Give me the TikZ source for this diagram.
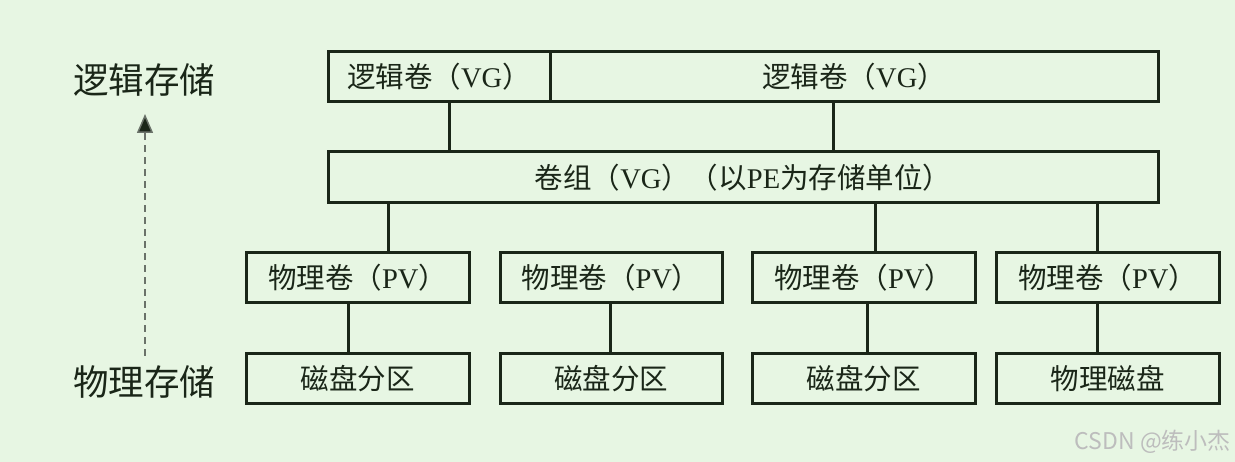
\documentclass[tikz,border=0pt]{standalone}
\usepackage{fontspec}
\setmainfont{Liberation Serif}
\newfontfamily\cjk{Noto Sans CJK SC}
\usetikzlibrary{arrows.meta}
\newcommand\zh[1]{{\cjk #1}}
\definecolor{bgc}{HTML}{E7F6E3}
\definecolor{linec}{HTML}{1A2618}
\definecolor{wmc}{HTML}{BDBDBD}
\tikzset{
  box/.style={draw=linec, line width=3pt, rectangle, inner sep=0pt,
    minimum height=50pt, text=linec, font=\fontsize{28.5}{28.5}\selectfont},
  conn/.style={draw=linec, line width=3pt},
  side/.style={text=linec, font=\cjk\fontsize{35.5}{35.5}\selectfont, inner sep=0pt},
  wm/.style={text=wmc, font=\cjk\fontsize{23}{23}\selectfont, inner sep=0pt}
}
\begin{document}
\begin{tikzpicture}[x=1pt,y=-1pt]
\fill[bgc] (0,0) rectangle (1235,462);
\useasboundingbox (0,0) rectangle (1235,462);
% top row
\node[box, minimum width=222pt] (tl) at (439,77) {\zh{逻辑卷（}VG\zh{）}};
\node[box, minimum width=608pt] (tr) at (854,77) {\zh{逻辑卷（}VG\zh{）}};
% middle
\node[box, minimum width=830pt, minimum height=51pt] (mid) at (743,177.5) {\zh{卷组（}VG\zh{）（以}PE\zh{为存储单位）}};
% PV row
\node[box, minimum width=223pt] (pv1) at (357.5,278) {\zh{物理卷（}PV\zh{）}};
\node[box, minimum width=222pt] (pv2) at (611,278) {\zh{物理卷（}PV\zh{）}};
\node[box, minimum width=223pt] (pv3) at (863.5,278) {\zh{物理卷（}PV\zh{）}};
\node[box, minimum width=223pt] (pv4) at (1107.5,278) {\zh{物理卷（}PV\zh{）}};
% bottom row
\node[box, minimum width=223pt] (d1) at (357.5,379) {\zh{磁盘分区}};
\node[box, minimum width=222pt] (d2) at (611,379) {\zh{磁盘分区}};
\node[box, minimum width=223pt] (d3) at (863.5,379) {\zh{磁盘分区}};
\node[box, minimum width=223pt] (d4) at (1107.5,379) {\zh{物理磁盘}};
% connectors
\draw[conn] (449,0 |- tl.south) -- (449,0 |- mid.north);
\draw[conn] (833,0 |- tr.south) -- (833,0 |- mid.north);
\draw[conn] (388,0 |- mid.south) -- (388,0 |- pv1.north);
\draw[conn] (875,0 |- mid.south) -- (875,0 |- pv3.north);
\draw[conn] (1097,0 |- mid.south) -- (1097,0 |- pv4.north);
\draw[conn] (348,0 |- pv1.south) -- (348,0 |- d1.north);
\draw[conn] (610,0 |- pv2.south) -- (610,0 |- d2.north);
\draw[conn] (867,0 |- pv3.south) -- (867,0 |- d3.north);
\draw[conn] (1097,0 |- pv4.south) -- (1097,0 |- d4.north);
% side labels
\node[side] (logic) at (144,80) {逻辑存储};
\node[side] (phys) at (144,382) {物理存储};
\coordinate (arrs) at (145,356);
\coordinate (arre) at (145,114);
\draw[draw=linec!65, line width=1.5pt, dash pattern=on 7pt off 5pt,
  -{Triangle[length=19pt,width=16pt,fill=linec]}] (arrs) -- (arre);
% watermark
\node[wm, anchor=east] (wmk) at (1231,442) {CSDN @练小杰};
\end{tikzpicture}
\end{document}
